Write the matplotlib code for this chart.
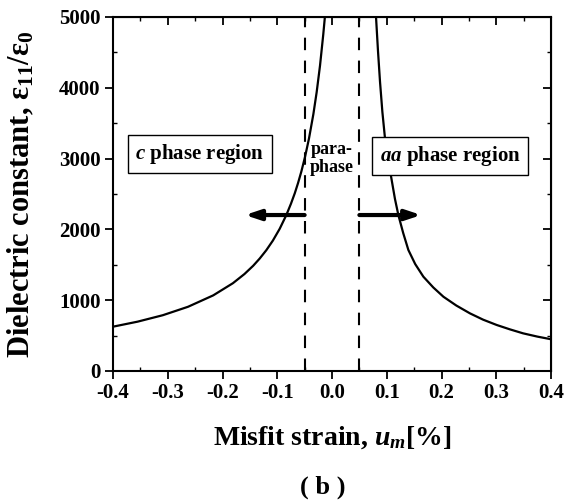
import matplotlib
matplotlib.use("Agg")
import matplotlib.pyplot as plt
from matplotlib.ticker import MultipleLocator

plt.rcParams['font.family'] = ['Liberation Serif', 'DejaVu Serif']
plt.rcParams['mathtext.fontset'] = 'custom'
plt.rcParams['mathtext.rm'] = 'Liberation Serif:bold'
plt.rcParams['mathtext.it'] = 'Liberation Serif:bold:italic'
plt.rcParams['mathtext.bf'] = 'Liberation Serif:bold'

# Left branch (c phase side)
left_x = [-0.400, -0.355, -0.309, -0.263, -0.217, -0.181, -0.160, -0.144, -0.132,
          -0.120, -0.108, -0.0955, -0.0834, -0.075, -0.068, -0.062, -0.056, -0.0493,
          -0.042, -0.034, -0.028, -0.0219, -0.016, -0.013]
left_y = [626, 697, 788, 907, 1068, 1240, 1369, 1486, 1589,
          1706, 1842, 2009, 2203, 2362, 2510, 2655, 2817, 3023,
          3285, 3629, 3939, 4313, 4750, 5000]
# Right branch (aa phase side)
right_x = [0.0804, 0.084, 0.0877, 0.092, 0.0968, 0.103, 0.109, 0.115, 0.1212, 0.130,
           0.1395, 0.152, 0.1669, 0.185, 0.2035, 0.227, 0.252, 0.276, 0.3008, 0.325,
           0.349, 0.375, 0.401]
right_y = [5000, 4520, 4085, 3660, 3286, 2970, 2697, 2430, 2203, 1950,
           1709, 1510, 1332, 1180, 1049, 925, 814, 725, 650, 588,
           532, 486, 447]

boundaries = [-0.05, 0.05]
xticks = [-0.4, -0.3, -0.2, -0.1, 0.0, 0.1, 0.2, 0.3, 0.4]
yticks = [0, 1000, 2000, 3000, 4000, 5000]
arrow_y = 2203
arrow_left_end = -0.159
arrow_right_end = 0.163

fig = plt.figure(figsize=(5.66, 5.03), dpi=100)
ax = fig.add_axes([113/566, 1 - 371/503, 438/566, 354/503])

ax.plot(left_x, left_y, color='black', lw=1.6, solid_joinstyle='round')
ax.plot(right_x, right_y, color='black', lw=1.6, solid_joinstyle='round')
for b in boundaries:
    ax.axvline(b, color='black', lw=1.5, ls=(0, (6, 5)))

ax.set_xlim(-0.4, 0.4)
ax.set_ylim(0, 5000)
ax.set_xticks(xticks)
ax.set_xticklabels([f"{v:.1f}" for v in xticks])
ax.set_yticks(yticks)
ax.xaxis.set_minor_locator(MultipleLocator(0.05))
ax.yaxis.set_minor_locator(MultipleLocator(500))
for lab in ax.get_xticklabels() + ax.get_yticklabels():
    lab.set_fontweight('bold')
    lab.set_fontsize(15)
ax.tick_params(which='major', direction='out', length=6, width=1.3, pad=3)
ax.tick_params(which='minor', direction='in', length=3, width=1.0)
for s in ax.spines.values():
    s.set_linewidth(1.5)

sx = ax.secondary_xaxis('top')
sx.set_xticks(xticks)
sx.xaxis.set_minor_locator(MultipleLocator(0.05))
sx.tick_params(which='major', direction='in', length=6, width=1.3, labeltop=False)
sx.tick_params(which='minor', direction='in', length=3, width=1.0)
sy = ax.secondary_yaxis('right')
sy.set_yticks(yticks)
sy.yaxis.set_minor_locator(MultipleLocator(500))
sy.tick_params(which='major', direction='in', length=6, width=1.3, labelright=False)
sy.tick_params(which='minor', direction='in', length=3, width=1.0)

ax.set_xlabel(r"Misfit strain, $u_{m}$[%]", fontsize=20, fontweight='bold', labelpad=15)
ax.set_ylabel(r"Dielectric constant, $\mathrm{\varepsilon}_{11}$/$\mathrm{\varepsilon}_{0}$",
              fontsize=22, fontweight='bold', labelpad=2)
ax.yaxis.set_label_coords(-0.175, 0.5)

box = dict(boxstyle='square,pad=0.35', fc='white', ec='black', lw=1.0)
ax.text(-0.241, 3065, r"$\mathit{c}$ phase region", fontsize=15, fontweight='bold',
        ha='center', va='center', bbox=box)
ax.text(0.2155, 3037, r"$\mathit{aa}$ phase region", fontsize=15, fontweight='bold',
        ha='center', va='center', bbox=box)
ax.text(0.0, 3000, "para-\nphase", fontsize=13, fontweight='bold',
        ha='center', va='center', linespacing=1.05)

arrow_style = dict(arrowstyle='-|>,head_length=0.9,head_width=0.3', lw=3, color='black',
                   shrinkA=0, shrinkB=0)
ax.annotate("", xy=(arrow_left_end, arrow_y), xytext=(boundaries[0], arrow_y),
            arrowprops=arrow_style)
ax.annotate("", xy=(arrow_right_end, arrow_y), xytext=(boundaries[1], arrow_y),
            arrowprops=arrow_style)

fig.text(323/566, 1 - 487/503, "( b )", fontsize=19, fontweight='bold', ha='center', va='center')

fig.savefig("out.png", dpi=100)
